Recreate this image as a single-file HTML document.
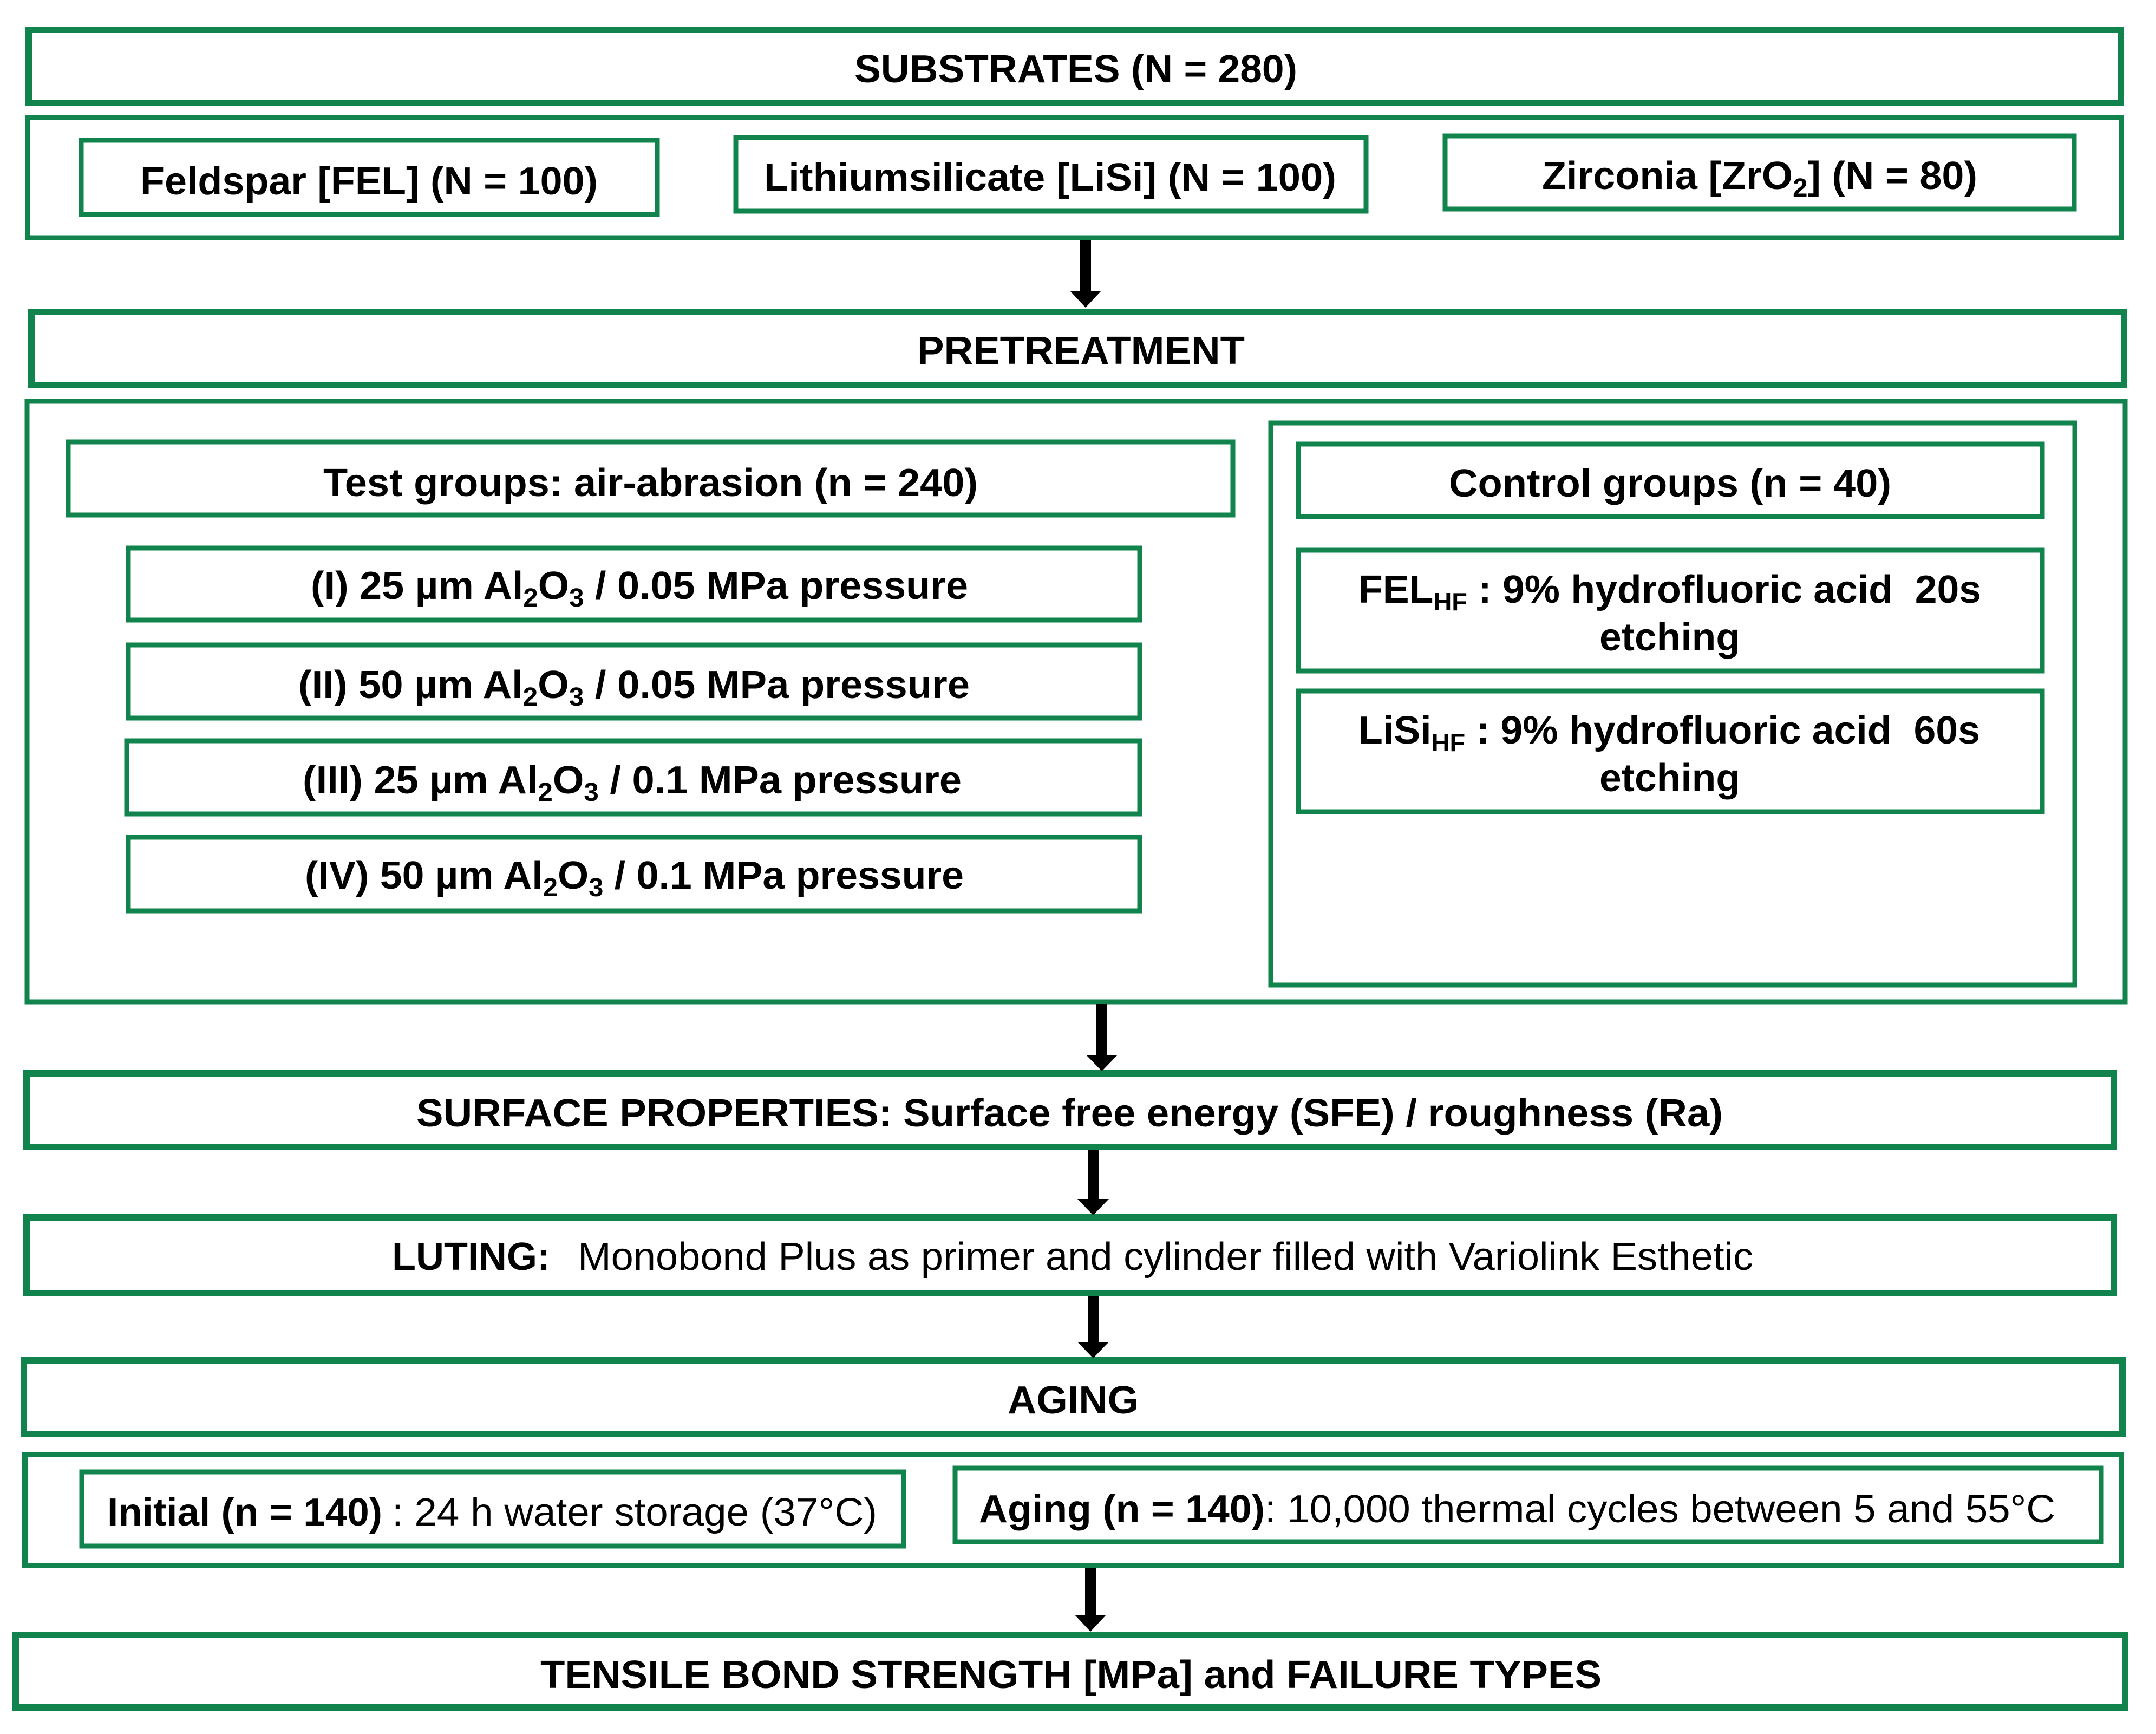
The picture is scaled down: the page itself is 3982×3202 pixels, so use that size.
<!DOCTYPE html>
<html><head><meta charset="utf-8"><style>
html,body{margin:0;padding:0;background:#fff;}
svg{display:block;}
text{font-family:"Liberation Sans",Arial,sans-serif;font-weight:bold;font-size:72px;fill:#000;}
.n{font-weight:normal;}
</style></head><body>
<svg width="3982" height="3202" viewBox="0 0 3982 3202" xmlns="http://www.w3.org/2000/svg">
<g fill="none" stroke="#11844e">
<rect x="53" y="55" width="3864" height="135" stroke-width="12"/>
<rect x="51" y="217" width="3867" height="222" stroke-width="9"/>
<rect x="150" y="259" width="1064" height="137" stroke-width="9"/>
<rect x="1359" y="254" width="1164" height="136" stroke-width="9"/>
<rect x="2669" y="251" width="1162" height="135" stroke-width="9"/>
<rect x="58" y="576" width="3865" height="135" stroke-width="12"/>
<rect x="50" y="741" width="3875" height="1109" stroke-width="9"/>
<rect x="126" y="816" width="2151" height="135" stroke-width="9"/>
<rect x="237" y="1012" width="1868" height="133" stroke-width="9"/>
<rect x="237" y="1191" width="1868" height="135" stroke-width="9"/>
<rect x="234" y="1368" width="1871" height="135" stroke-width="9"/>
<rect x="237" y="1546" width="1868" height="136" stroke-width="9"/>
<rect x="2347" y="781" width="1485" height="1038" stroke-width="9"/>
<rect x="2398" y="820" width="1374" height="134" stroke-width="9"/>
<rect x="2398" y="1016" width="1374" height="223" stroke-width="9"/>
<rect x="2398" y="1276" width="1374" height="223" stroke-width="9"/>
<rect x="49" y="1982" width="3855" height="136" stroke-width="12"/>
<rect x="49" y="2248" width="3855" height="140" stroke-width="12"/>
<rect x="44" y="2512" width="3876" height="136" stroke-width="12"/>
<rect x="46" y="2686" width="3872" height="205" stroke-width="10"/>
<rect x="151" y="2718" width="1518" height="137" stroke-width="9"/>
<rect x="1764" y="2711" width="2117" height="136" stroke-width="9"/>
<rect x="29" y="3019" width="3896" height="134" stroke-width="12"/>
</g>
<g fill="#000">
<rect x="1995" y="444" width="20" height="96"/><polygon points="1977,538 2033,538 2005,568"/>
<rect x="2025" y="1854" width="20" height="96"/><polygon points="2006,1948 2064,1948 2035,1978"/>
<rect x="2009" y="2124" width="20" height="92"/><polygon points="1990,2214 2048,2214 2019,2244"/>
<rect x="2009" y="2394" width="20" height="86"/><polygon points="1990,2478 2048,2478 2019,2508"/>
<rect x="2004" y="2896" width="20" height="88"/><polygon points="1985,2982 2043,2982 2014,3013"/>
</g>
<text x="1578" y="152" textLength="818" lengthAdjust="spacingAndGlyphs">SUBSTRATES (N = 280)</text>
<text x="259" y="359" textLength="845" lengthAdjust="spacingAndGlyphs">Feldspar [FEL] (N = 100)</text>
<text x="1411" y="352" textLength="1057" lengthAdjust="spacingAndGlyphs">Lithiumsilicate [LiSi] (N = 100)</text>
<text x="2848" y="349" textLength="804" lengthAdjust="spacingAndGlyphs">Zirconia [ZrO<tspan font-size="48" dy="14">2</tspan><tspan dy="-14">] (N = 80)</tspan></text>
<text x="1694" y="672" textLength="605" lengthAdjust="spacingAndGlyphs">PRETREATMENT</text>
<text x="597" y="916" textLength="1209" lengthAdjust="spacingAndGlyphs">Test groups: air-abrasion (n = 240)</text>
<text x="574" y="1106" textLength="1214" lengthAdjust="spacingAndGlyphs">(I) 25 µm Al<tspan font-size="48" dy="14">2</tspan><tspan dy="-14">O</tspan><tspan font-size="48" dy="14">3</tspan><tspan dy="-14"> / 0.05 MPa pressure</tspan></text>
<text x="551" y="1289" textLength="1240" lengthAdjust="spacingAndGlyphs">(II) 50 µm Al<tspan font-size="48" dy="14">2</tspan><tspan dy="-14">O</tspan><tspan font-size="48" dy="14">3</tspan><tspan dy="-14"> / 0.05 MPa pressure</tspan></text>
<text x="559" y="1465" textLength="1217" lengthAdjust="spacingAndGlyphs">(III) 25 µm Al<tspan font-size="48" dy="14">2</tspan><tspan dy="-14">O</tspan><tspan font-size="48" dy="14">3</tspan><tspan dy="-14"> / 0.1 MPa pressure</tspan></text>
<text x="563" y="1641" textLength="1217" lengthAdjust="spacingAndGlyphs">(IV) 50 µm Al<tspan font-size="48" dy="14">2</tspan><tspan dy="-14">O</tspan><tspan font-size="48" dy="14">3</tspan><tspan dy="-14"> / 0.1 MPa pressure</tspan></text>
<text x="2676" y="917" textLength="817" lengthAdjust="spacingAndGlyphs">Control groups (n = 40)</text>
<text x="2509" y="1113" textLength="1150" lengthAdjust="spacingAndGlyphs">FEL<tspan font-size="46" dy="14">HF</tspan><tspan dy="-14"> : 9% hydrofluoric acid &#160;20s</tspan></text>
<text x="2954" y="1201" textLength="260" lengthAdjust="spacingAndGlyphs">etching</text>
<text x="2509" y="1373" textLength="1148" lengthAdjust="spacingAndGlyphs">LiSi<tspan font-size="46" dy="14">HF</tspan><tspan dy="-14"> : 9% hydrofluoric acid &#160;60s</tspan></text>
<text x="2954" y="1461" textLength="260" lengthAdjust="spacingAndGlyphs">etching</text>
<text x="769" y="2080" textLength="2413" lengthAdjust="spacingAndGlyphs">SURFACE PROPERTIES: Surface free energy (SFE) / roughness (Ra)</text>
<text x="724" y="2345" textLength="292" lengthAdjust="spacingAndGlyphs">LUTING:</text>
<text class="n" x="1067" y="2345" textLength="2171" lengthAdjust="spacingAndGlyphs">Monobond Plus as primer and cylinder filled with Variolink Esthetic</text>
<text x="1861" y="2610" textLength="242" lengthAdjust="spacingAndGlyphs">AGING</text>
<text x="198" y="2817" textLength="508" lengthAdjust="spacingAndGlyphs">Initial (n = 140)</text>
<text class="n" x="724" y="2817" textLength="896" lengthAdjust="spacingAndGlyphs">: 24 h water storage (37°C)</text>
<text x="1808" y="2811" textLength="528" lengthAdjust="spacingAndGlyphs">Aging (n = 140)</text>
<text class="n" x="2336" y="2811" textLength="1460" lengthAdjust="spacingAndGlyphs">: 10,000 thermal cycles between 5 and 55°C</text>
<text x="998" y="3117" textLength="1960" lengthAdjust="spacingAndGlyphs">TENSILE BOND STRENGTH [MPa] and FAILURE TYPES</text>
</svg>
</body></html>
